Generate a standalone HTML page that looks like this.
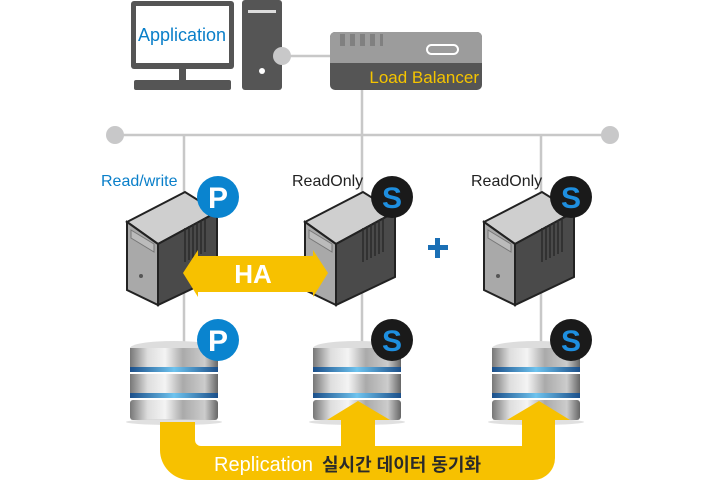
<!DOCTYPE html>
<html><head><meta charset="utf-8"><style>
html,body{margin:0;padding:0;background:#fff;width:720px;height:480px;overflow:hidden}
svg{display:block}
text{font-family:"Liberation Sans","Noto Sans CJK KR",sans-serif}
</style></head><body>
<svg width="720" height="480" viewBox="0 0 720 480" xmlns="http://www.w3.org/2000/svg">
<defs>
<linearGradient id="disc" x1="0" x2="1" y1="0" y2="0">
<stop offset="0" stop-color="#777"/><stop offset="0.2" stop-color="#ddd"/><stop offset="0.4" stop-color="#f4f4f4"/><stop offset="0.6" stop-color="#aaa"/><stop offset="0.85" stop-color="#ccc"/><stop offset="1" stop-color="#666"/>
</linearGradient>
<linearGradient id="ring" x1="0" x2="1"><stop offset="0" stop-color="#1b4f8a"/><stop offset="0.5" stop-color="#6fc3ee"/><stop offset="1" stop-color="#1b4f8a"/></linearGradient>
<g id="server">
<polygon points="127,222 185,192 217,212 158,244" fill="#cfcfcf" stroke="#222" stroke-width="2"/>
<polygon points="127,222 158,244 158,305 127,290" fill="#a9a9a9" stroke="#222" stroke-width="2"/>
<polygon points="158,244 217,212 217,277 158,305" fill="#4a4a4a" stroke="#222" stroke-width="2"/>
<polygon points="131,230 154,244 154,252 131,238" fill="#bbb" stroke="#777"/>
<circle cx="141" cy="276" r="2" fill="#555"/>
<g stroke="#2a2a2a" stroke-width="1.5">
<line x1="185" y1="228" x2="185" y2="262"/><line x1="189" y1="226" x2="189" y2="260"/><line x1="193" y1="224" x2="193" y2="258"/><line x1="197" y1="222" x2="197" y2="256"/><line x1="201" y1="220" x2="201" y2="254"/><line x1="205" y1="218" x2="205" y2="252"/>
</g>
</g>
<g id="db">
<ellipse cx="44" cy="8" rx="44" ry="7" fill="#ddd"/>
<rect x="0" y="8" width="88" height="24" fill="url(#disc)"/>
<rect x="0" y="27" width="88" height="5" fill="url(#ring)"/>
<rect x="0" y="34" width="88" height="22" fill="url(#disc)"/>
<rect x="0" y="53" width="88" height="5" fill="url(#ring)"/>
<rect x="0" y="60" width="88" height="20" rx="3" fill="url(#disc)"/>
<ellipse cx="44" cy="82" rx="48" ry="3" fill="#ccc" opacity="0.6"/>
</g>
</defs>
<!-- lines -->
<g stroke="#c8c8c8" stroke-width="2.5">
<line x1="115" y1="135" x2="610" y2="135"/>
<line x1="184" y1="135" x2="184" y2="345"/>
<line x1="362" y1="90" x2="362" y2="345"/>
<line x1="541" y1="135" x2="541" y2="345"/>
<line x1="283" y1="56" x2="332" y2="56"/>
</g>
<circle cx="115" cy="135" r="9" fill="#c8c8c9"/>
<circle cx="610" cy="135" r="9" fill="#c8c8c9"/>
<!-- monitor -->
<rect x="131" y="1" width="103" height="68" rx="3" fill="#555"/>
<rect x="136" y="6" width="93" height="57" fill="#fff"/>
<text x="182" y="41" font-size="18" fill="#0a7fc9" text-anchor="middle">Application</text>
<rect x="179" y="69" width="7" height="12" fill="#555"/>
<rect x="134" y="80" width="97" height="10" rx="2" fill="#555"/>
<rect x="242" y="0" width="40" height="90" rx="3" fill="#555"/>
<rect x="248" y="10" width="28" height="3" fill="#ddd"/>
<circle cx="262" cy="71" r="3" fill="#fff"/>
<circle cx="282" cy="56" r="9" fill="#c8c8c9"/>
<!-- load balancer -->
<rect x="330" y="32" width="152" height="58" rx="5" fill="#555"/>
<path d="M335,32 H477 A5,5 0 0 1 482,37 V63 H330 V37 A5,5 0 0 1 335,32Z" fill="#9c9c9c"/>
<g fill="#808080"><rect x="340" y="34" width="5" height="12"/><rect x="350" y="34" width="5" height="12"/><rect x="360" y="34" width="5" height="12"/><rect x="370" y="34" width="5" height="12"/><rect x="380" y="34" width="3" height="12"/></g>
<rect x="427" y="45" width="31" height="9" rx="4.5" fill="none" stroke="#fff" stroke-width="2"/>
<text x="479" y="83" font-size="17" fill="#f5c400" text-anchor="end">Load Balancer</text>
<!-- labels -->
<text x="101" y="186" font-size="16" fill="#0a7fc9">Read/write</text>
<text x="292" y="186" font-size="16" fill="#222">ReadOnly</text>
<text x="471" y="186" font-size="16" fill="#222">ReadOnly</text>
<!-- servers -->
<use href="#server"/>
<use href="#server" x="178"/>
<use href="#server" x="357"/>
<!-- HA -->
<polygon points="183,273 198,250 198,256 313,256 313,250 328,273 313,297 313,292 198,292 198,297" fill="#f7c100"/>
<text x="253" y="283" font-size="26" font-weight="bold" fill="#fff" text-anchor="middle">HA</text>
<!-- plus -->
<rect x="428" y="245" width="20" height="5" fill="#1a6fb5"/>
<rect x="435" y="238" width="5" height="20" fill="#1a6fb5"/>
<!-- DBs -->
<use href="#db" x="130" y="340"/>
<use href="#db" x="313" y="340"/>
<use href="#db" x="492" y="340"/>
<!-- badges -->
<g font-weight="bold" font-size="30" text-anchor="middle">
<circle cx="218" cy="197" r="21" fill="#0a84cf"/><text x="218" y="208" fill="#fff">P</text>
<circle cx="218" cy="340" r="21" fill="#0a84cf"/><text x="218" y="351" fill="#fff">P</text>
<circle cx="392" cy="197" r="21" fill="#1a1a1a"/><text x="392" y="208" fill="#1e8fe0">S</text>
<circle cx="392" cy="340" r="21" fill="#1a1a1a"/><text x="392" y="351" fill="#1e8fe0">S</text>
<circle cx="571" cy="197" r="21" fill="#1a1a1a"/><text x="571" y="208" fill="#1e8fe0">S</text>
<circle cx="571" cy="340" r="21" fill="#1a1a1a"/><text x="571" y="351" fill="#1e8fe0">S</text>
</g>
<!-- replication -->
<path d="M160,422 H195 V440 A6,6 0 0 0 201,446 H341 V420 H327 L358,401 L390,420 H375 V446 H522 V420 H507 L539,401 L570,420 H555 V458 A22,22 0 0 1 533,480 H190 A30,30 0 0 1 160,450 Z" fill="#f7c100"/>
<text x="214" y="471" font-size="20" fill="#fff">Replication</text>
<text x="322" y="471" font-size="18" font-weight="bold" fill="#2a2a2a">실시간 데이터 동기화</text>
</svg>
</body></html>
